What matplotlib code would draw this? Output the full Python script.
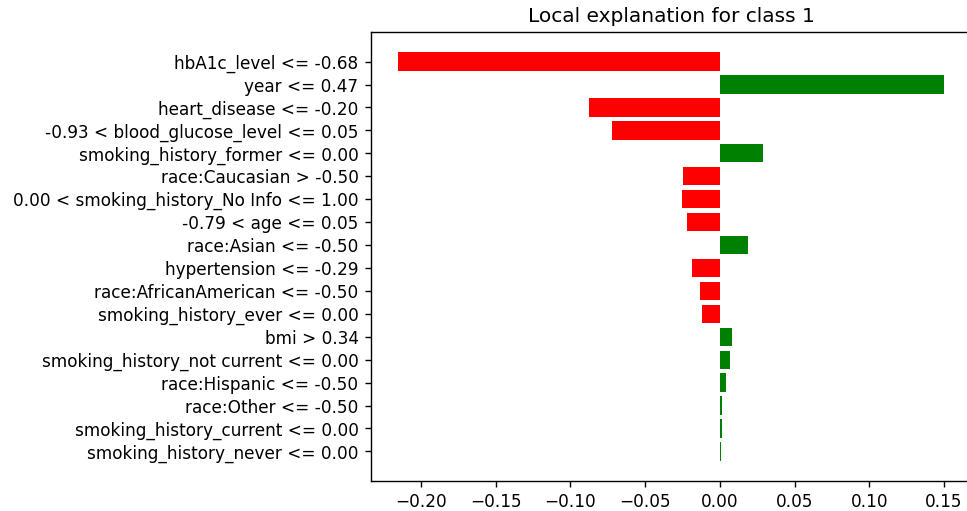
import matplotlib
matplotlib.use("Agg")
import matplotlib.pyplot as plt
import numpy as np

# Feature conditions and their local weights (top to bottom)
features = [
    "hbA1c_level <= -0.68",
    "year <= 0.47",
    "heart_disease <= -0.20",
    "-0.93 < blood_glucose_level <= 0.05",
    "smoking_history_former <= 0.00",
    "race:Caucasian > -0.50",
    "0.00 < smoking_history_No Info <= 1.00",
    "-0.79 < age <= 0.05",
    "race:Asian <= -0.50",
    "hypertension <= -0.29",
    "race:AfricanAmerican <= -0.50",
    "smoking_history_ever <= 0.00",
    "bmi > 0.34",
    "smoking_history_not current <= 0.00",
    "race:Hispanic <= -0.50",
    "race:Other <= -0.50",
    "smoking_history_current <= 0.00",
    "smoking_history_never <= 0.00",
]
weights = [
    -0.2152, 0.1503, -0.0873, -0.0719, 0.0289, -0.0249, -0.0250, -0.0220,
    0.0191, -0.0187, -0.0134, -0.0118, 0.0080, 0.0067, 0.0042, 0.0013,
    0.0012, 0.0006,
]
title = "Local explanation for class 1"

vals = list(reversed(weights))
names = list(reversed(features))
colors = ["green" if v > 0 else "red" for v in vals]
pos = np.arange(len(vals))

plt.rcParams.update({
    "font.size": 12.15,
    "axes.titlesize": 14.5,
    "axes.linewidth": 1.0,
    "xtick.major.size": 4.4,
    "ytick.major.size": 4.4,
    "xtick.major.width": 1.0,
    "ytick.major.width": 1.0,
    "xtick.major.pad": 4.4,
    "ytick.major.pad": 4.4,
    "axes.titlepad": 7.5,
})

W, H = 967, 511
fig = plt.figure(figsize=(W / 100, H / 100), dpi=100)
ax = fig.add_axes([370.8 / W, (H - 481) / H, 601 / W, 449 / H])
ax.barh(pos, vals, align="center", color=colors)
ax.set_yticks(pos)
ax.set_yticklabels(names)
ax.set_title(title)
ax.spines["right"].set_visible(False)

fig.savefig("out.png", dpi=100)
